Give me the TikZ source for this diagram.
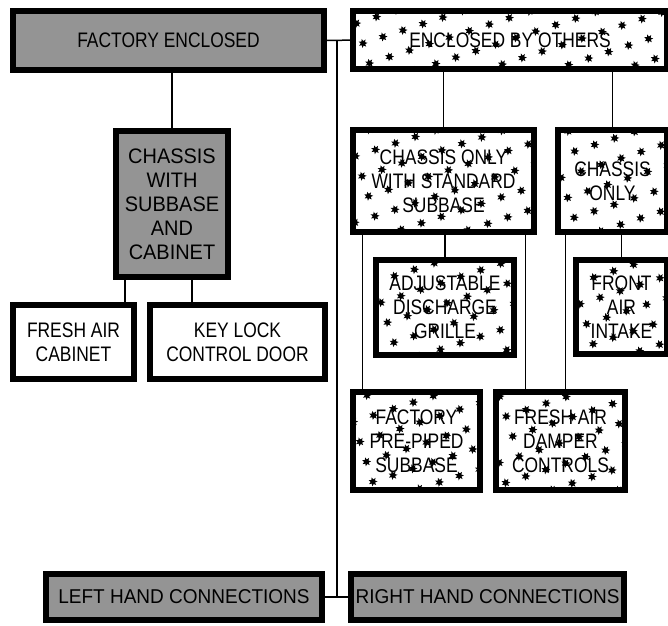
\documentclass[tikz,border=0pt]{standalone}
\usepackage{fontspec}
\setmainfont{Liberation Sans}
\newfontfamily\narrowfont{Liberation Sans}[FakeStretch=0.83]
\newfontfamily\wideface{Liberation Sans}[FakeStretch=0.95]
\usepackage{tikz}
\usetikzlibrary{patterns.meta}

\begin{document}
\begin{tikzpicture}[
    x=1pt, y=-1pt,
    base/.style={draw, line width=6pt, align=center, inner sep=2pt, font=\narrowfont\fontsize{21}{24}\selectfont},
    greybox/.style={base, fill=black!42},
    spotbox/.style={base, fill=white, postaction={pattern={Stars[distance=21pt, radius=4.6pt, points=7, angle=18]}}},
    plainbox/.style={base, fill=white},
    link/.style={line width=1.5pt},
]
    \useasboundingbox (0,0) rectangle (668,625);

    % factory side
    \node[greybox, minimum width=311pt, minimum height=59pt] (fe) at (168.5,40.5) {FACTORY ENCLOSED};
    \node[greybox, minimum width=112pt, minimum height=146pt, font=\wideface\fontsize{21}{24}\selectfont] (cwsc) at (172,204) {CHASSIS\\WITH\\SUBBASE\\AND\\CABINET};
    \node[plainbox, minimum width=121pt, minimum height=74pt] (fac) at (73.5,342) {FRESH AIR\\CABINET};
    \node[plainbox, minimum width=175pt, minimum height=74pt] (klcd) at (237.5,342) {KEY LOCK\\CONTROL DOOR};

    % others side
    \node[spotbox, minimum width=314pt, minimum height=58pt] (ebo) at (510,40) {ENCLOSED BY OTHERS};
    \node[spotbox, minimum width=181pt, minimum height=102pt] (cows) at (443.5,181) {CHASSIS ONLY\\WITH STANDARD\\SUBBASE};
    \node[spotbox, minimum width=109pt, minimum height=102pt] (co) at (612.5,181) {CHASSIS\\ONLY};
    \node[spotbox, minimum width=138pt, minimum height=95pt] (adg) at (445,307.5) {ADJUSTABLE\\DISCHARGE\\GRILLE};
    \node[spotbox, minimum width=91pt, minimum height=94pt] (fai) at (621.5,307) {FRONT\\AIR\\INTAKE};
    \node[spotbox, minimum width=127pt, minimum height=98pt] (fpps) at (416.5,441) {FACTORY\\PRE-PIPED\\SUBBASE};
    \node[spotbox, minimum width=129pt, minimum height=98pt] (fadc) at (560.5,441) {FRESH AIR\\DAMPER\\CONTROLS};

    % connections
    \node[greybox, minimum width=276pt, minimum height=46pt, font=\wideface\fontsize{20}{24}\selectfont] (lhc) at (184,597) {LEFT HAND CONNECTIONS};
    \node[greybox, minimum width=273pt, minimum height=46pt, font=\wideface\fontsize{20}{24}\selectfont] (rhc) at (487.5,597) {RIGHT HAND CONNECTIONS};

    \coordinate (jtop) at (337,40);
    \coordinate (jbot) at (337,597);

    \draw[link] (fe) -- (ebo);
    \draw[link] (jtop) -- (jbot);
    \draw[link] (lhc) -- (rhc);

    \draw[link] (cwsc.north) -- (cwsc.north |- fe.south);
    \draw[link] ([xshift=-47pt]cwsc.south) -- ([xshift=-47pt]cwsc.south |- fac.north);
    \draw[link] ([xshift=20pt]cwsc.south) -- ([xshift=20pt]cwsc.south |- klcd.north);

    \draw[link] (cows.north) -- (cows.north |- ebo.south);
    \draw[link] (co.north) -- (co.north |- ebo.south);
    \draw[link] (adg.north) -- (adg.north |- cows.south);
    \draw[link] (fai.north) -- (fai.north |- co.south);
    \draw[link] ([xshift=-54pt]fpps.north) -- ([xshift=-54pt]fpps.north |- cows.south);
    \draw[link] ([xshift=-35pt]fadc.north) -- ([xshift=-35pt]fadc.north |- cows.south);
    \draw[link] ([xshift=5pt]fadc.north) -- ([xshift=5pt]fadc.north |- co.south);
\end{tikzpicture}
\end{document}
